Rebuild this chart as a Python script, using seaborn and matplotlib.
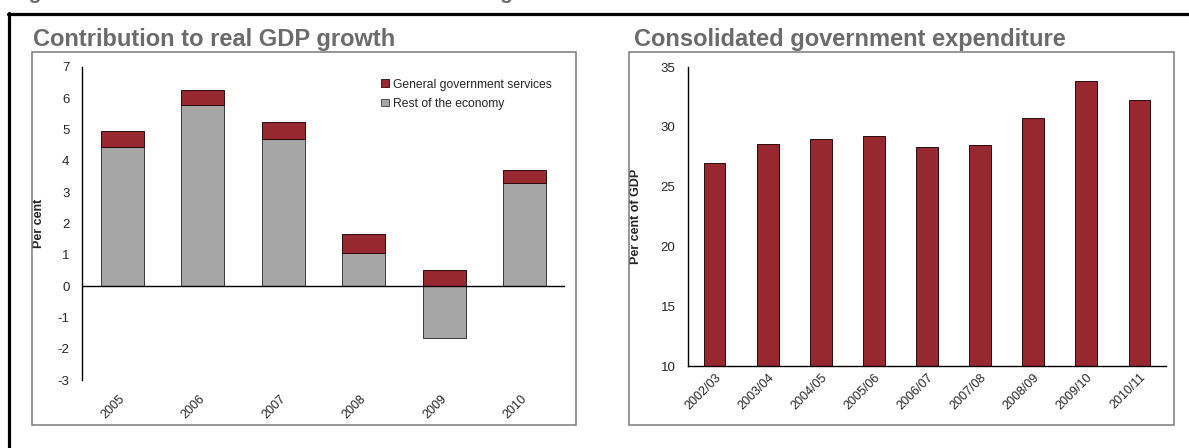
import numpy as np
import pandas as pd
import matplotlib
matplotlib.use("Agg")
import matplotlib.pyplot as plt
from matplotlib import font_manager
from matplotlib.patches import Rectangle, Patch
from matplotlib.lines import Line2D
from matplotlib.transforms import ScaledTranslation
import seaborn as sns

# ---- data ----
years = ["2005", "2006", "2007", "2008", "2009", "2010"]
rest_of_economy = [4.46, 5.78, 4.69, 1.06, -1.66, 3.30]
gov_services = [0.48, 0.50, 0.55, 0.62, 0.50, 0.41]

fiscal_years = ["2002/03", "2003/04", "2004/05", "2005/06", "2006/07",
                "2007/08", "2008/09", "2009/10", "2010/11"]
expenditure = [27.0, 28.55, 29.0, 29.25, 28.35, 28.5, 30.75, 33.85, 32.26]

left_title = "Contribution to real GDP growth"
right_title = "Consolidated government expenditure"
figure_title = "Figure 1: Contribution to GDP and the size of the government"
series_names = ["General government services", "Rest of the economy"]

RED = "#982830"
GREY = "#a6a6a6"
TITLE_GREY = "#6b6b6b"

# ---- style ----
sns.set_style("white")
available = {f.name for f in font_manager.fontManager.ttflist}
narrow = "Liberation Sans Narrow" if "Liberation Sans Narrow" in available else "Liberation Sans"
plt.rcParams["font.family"] = [narrow, "DejaVu Sans"]
plt.rcParams["axes.unicode_minus"] = False

W, H = 1189, 448
fig = plt.figure(figsize=(W / 100, H / 100), dpi=100)
fig.patch.set_facecolor("white")


def fx(px):
    return px / W


def fy(py):
    return 1 - py / H


def axes_rect(x0, y0, x1, y1):
    return [fx(x0), fy(y1), fx(x1) - fx(x0), fy(y0) - fy(y1)]


# outer frame (top and left rules)
fig.add_artist(Line2D([fx(8), fx(W)], [fy(14), fy(14)], color="black", lw=2.3))
fig.add_artist(Line2D([fx(9), fx(9)], [fy(13), fy(H)], color="black", lw=2.3))

# figure title sitting just above the top edge
fig.text(fx(10), fy(-1), figure_title, fontsize=15, fontweight="bold",
         color=TITLE_GREY, family="Liberation Sans", va="baseline", ha="left")

# panel boxes
for x0, x1 in [(32, 576), (629, 1174)]:
    fig.add_artist(Rectangle((fx(x0), fy(425)), fx(x1) - fx(x0), fy(52) - fy(425),
                             transform=fig.transFigure, fill=False,
                             edgecolor="#7a7a7a", lw=1.1))

fig.text(fx(33), fy(46), left_title, fontsize=17, fontweight="bold",
         color=TITLE_GREY, family="Liberation Sans", va="baseline", ha="left")
fig.text(fx(634), fy(46), right_title, fontsize=17, fontweight="bold",
         color=TITLE_GREY, family="Liberation Sans", va="baseline", ha="left")

# ---- left panel: stacked contributions ----
axL = fig.add_axes(axes_rect(82, 67, 565, 380))
df_left = pd.DataFrame({"year": years, "rest": rest_of_economy, "gov": gov_services})
df_left["base"] = df_left["rest"].clip(lower=0)

sns.barplot(data=df_left, x="year", y="rest", ax=axL, color=GREY, width=0.53,
            saturation=1, edgecolor="#3a3a3a", linewidth=0.7)
sns.barplot(data=df_left, x="year", y="gov", ax=axL, color=RED, width=0.53,
            saturation=1, edgecolor="#2a0a0c", linewidth=0.7,
            bottom=df_left["base"].values)

axL.set_ylim(-3, 7)
axL.set_yticks(range(-3, 8))
axL.set_xlim(-0.5, len(years) - 0.5)
axL.axhline(0, color="black", lw=1.0, zorder=5)
axL.set_xlabel("")
axL.set_ylabel("Per cent", fontsize=9, fontweight="bold")
axL.yaxis.set_label_coords((45 - 82) / 483, 0.5)

legend_handles = [
    Patch(facecolor=RED, edgecolor="#2a0a0c", linewidth=0.6),
    Patch(facecolor=GREY, edgecolor="#3a3a3a", linewidth=0.6),
]
axL.legend(legend_handles, series_names, loc="upper right", frameon=False,
           fontsize=8.7, handlelength=0.6, handleheight=0.6, handletextpad=0.35,
           labelspacing=0.6, bbox_to_anchor=(0.99, 0.99), borderaxespad=0.3)

# ---- right panel: expenditure ----
axR = fig.add_axes(axes_rect(688, 67, 1166, 366))
df_right = pd.DataFrame({"year": fiscal_years, "exp": expenditure})
sns.barplot(data=df_right, x="year", y="exp", ax=axR, color=RED, width=0.41,
            saturation=1, edgecolor="#2a0a0c", linewidth=0.7)
axR.set_ylim(10, 35)
axR.set_yticks(range(10, 36, 5))
axR.set_xlim(-0.5, len(fiscal_years) - 0.5)
axR.set_xlabel("")
axR.set_ylabel("Per cent of GDP", fontsize=9, fontweight="bold")
axR.yaxis.set_label_coords((642 - 688) / 478, 0.5)

shift = ScaledTranslation(-4 / 100, 0, fig.dpi_scale_trans)
for ax, bottom_visible, xpad in [(axL, False, 9), (axR, True, 4)]:
    for side in ["top", "right"]:
        ax.spines[side].set_visible(False)
    ax.spines["bottom"].set_visible(bottom_visible)
    ax.spines["left"].set_color("black")
    ax.spines["left"].set_linewidth(1.0)
    ax.spines["bottom"].set_color("black")
    ax.spines["bottom"].set_linewidth(1.0)
    ax.set_facecolor("none")
    ax.tick_params(axis="y", length=0, pad=9, labelsize=9.5)
    ax.tick_params(axis="x", length=0, pad=xpad, labelsize=9)
    for lab in ax.get_xticklabels():
        lab.set_rotation(45)
        lab.set_ha("right")
        lab.set_rotation_mode("anchor")
        if ax is axL:
            lab.set_transform(lab.get_transform() + shift)

fig.savefig("out.png", dpi=100, facecolor="white")
